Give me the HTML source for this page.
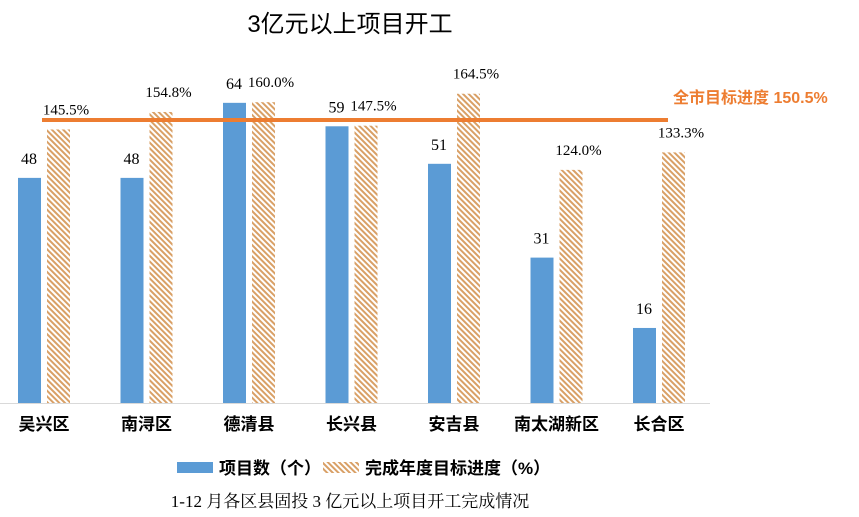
<!DOCTYPE html>
<html><head><meta charset="utf-8"><style>
body{margin:0;background:#fff;width:859px;height:517px;overflow:hidden}
svg{display:block}
</style></head><body>
<svg width="859" height="517">
<defs><pattern id="hatch" patternUnits="userSpaceOnUse" width="4" height="4" patternTransform="rotate(-45)">
<rect width="4" height="4" fill="#fff"/><rect width="2" height="4" fill="#D9A066"/></pattern></defs>
<text x="350" y="32" text-anchor="middle" font-size="24" font-family="'Liberation Sans','Noto Sans CJK SC',sans-serif">3亿元以上项目开工</text>
<g id="plot"></g>
<line x1="0" y1="403.5" x2="710" y2="403.5" stroke="#D9D9D9"/>
<g>
<rect x="177" y="462" width="36" height="11" fill="#5B9BD5"/>
<text x="219" y="474" font-size="17" font-weight="bold" font-family="'Liberation Sans','Noto Sans CJK SC',sans-serif">项目数（个）</text>
<rect x="323" y="462" width="36" height="11" fill="url(#hatch)"/>
<text x="365" y="474" font-size="17" font-weight="bold" font-family="'Liberation Sans','Noto Sans CJK SC',sans-serif">完成年度目标进度（%）</text>
</g>
<text x="350" y="507" text-anchor="middle" font-size="17" font-family="'Liberation Serif','Noto Serif CJK SC',serif">1-12 月各区县固投 3 亿元以上项目开工完成情况</text>
</svg>
<script>
const categories=["吴兴区","南浔区","德清县","长兴县","安吉县","南太湖新区","长合区"];
const counts=[48,48,64,59,51,31,16];
const progress=[145.5,154.8,160.0,147.5,164.5,124.0,133.3];
const target=150.5;
const NS="http://www.w3.org/2000/svg";
const g=document.getElementById('plot');
const base=403;
const xC=i=>44+i*102.5;
const yCount=v=>base-v*4.69;
const yPct=v=>base-v*1.88;
function mk(tag,attrs,txt){const e=document.createElementNS(NS,tag);for(const k in attrs)e.setAttribute(k,attrs[k]);if(txt!==undefined)e.textContent=txt;g.appendChild(e);return e;}
const F="'Liberation Serif','Noto Serif CJK SC',serif";
categories.forEach((c,i)=>{
 const cx=xC(i);
 let y=yCount(counts[i]);
 let r=mk('rect',{x:cx-26,y:y,width:23,height:base-y,fill:'#5B9BD5'});
 
 
 let t=mk('text',{x:cx-15,y:y-14,'text-anchor':'middle','font-size':16,'font-family':F},String(counts[i]));
 
 
 let y2=yPct(progress[i]);
 let r2=mk('rect',{x:cx+3,y:y2,width:23,height:base-y2,fill:'url(#hatch)'});
 
 
 let t2=mk('text',{x:cx+22,y:y2-15,'text-anchor':'middle','font-size':15,'font-family':F},progress[i].toFixed(1)+'%');
 
 
 let l=mk('text',{x:cx,y:430,'text-anchor':'middle','font-size':17,'font-weight':'bold','font-family':"'Liberation Sans','Noto Sans CJK SC',sans-serif"},c);
 
 
});
const ty=yPct(target);
let ln=mk('line',{x1:42,y1:ty,x2:668,y2:ty,stroke:'#ED7D31','stroke-width':4});


let tl=mk('text',{x:673,y:103,'font-size':16,'font-weight':'bold',fill:'#ED7D31','font-family':"'Liberation Sans','Noto Sans CJK SC',sans-serif"},'全市目标进度 '+target.toFixed(1)+'%');


</script>
</body></html>
